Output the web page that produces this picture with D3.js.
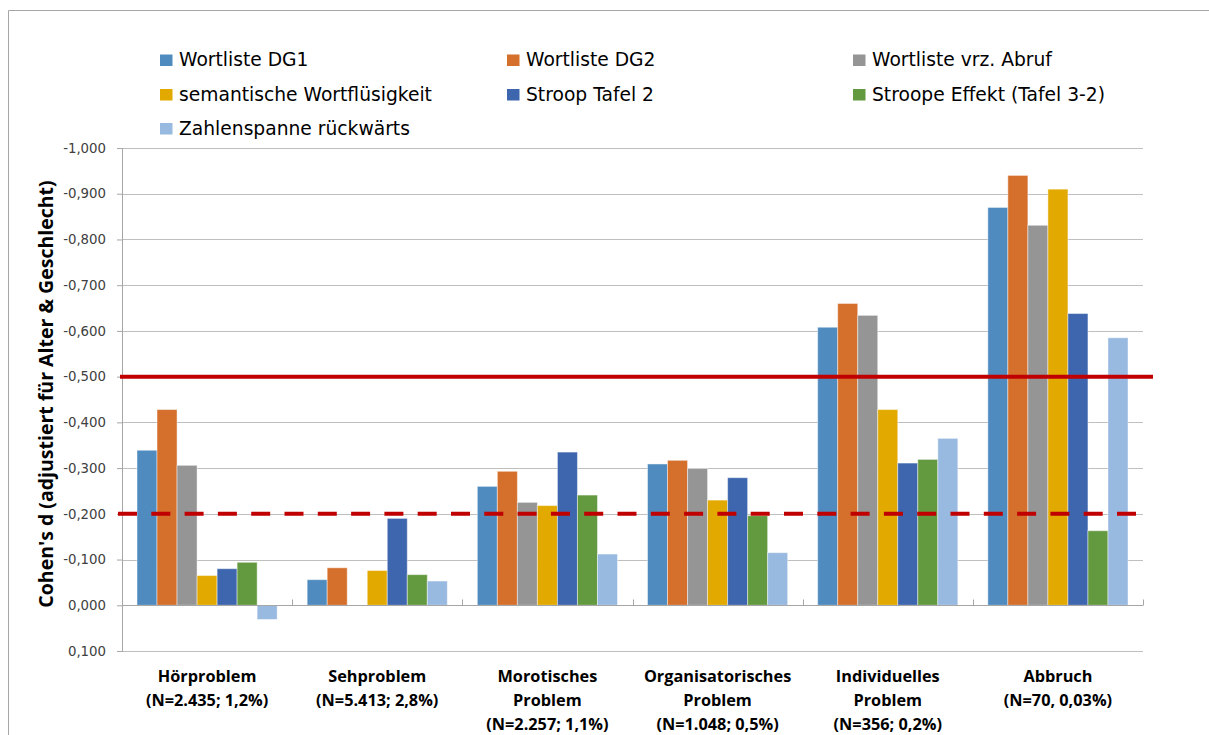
<!DOCTYPE html>
<html>
<head>
<meta charset="utf-8">
<script src="https://cdn.jsdelivr.net/npm/d3@7"></script>
<style>
  body { margin: 0; background: #fff; }
  svg text { font-family: "Open Sans", "Noto Sans", sans-serif; }
</style>
</head>
<body>
<div id="chart"></div>
<script>
// Data
var categories = [
  ["Hörproblem", "(N=2.435; 1,2%)"],
  ["Sehproblem", "(N=5.413; 2,8%)"],
  ["Morotisches", "Problem", "(N=2.257; 1,1%)"],
  ["Organisatorisches", "Problem", "(N=1.048; 0,5%)"],
  ["Individuelles", "Problem", "(N=356; 0,2%)"],
  ["Abbruch", "(N=70, 0,03%)"]
];
var seriesNames = ["Wortliste DG1", "Wortliste DG2", "Wortliste vrz. Abruf",
  "semantische Wortflüsigkeit", "Stroop Tafel 2", "Stroope Effekt (Tafel 3-2)",
  "Zahlenspanne rückwärts"];
var seriesColors = ["#4f8bbf", "#d46f2c", "#959595", "#e2aa00", "#3e66ae", "#63993f", "#98b9e0"];

var wortlisteDG1  = [-0.339, -0.056, -0.260, -0.309, -0.608, -0.870];
var wortlisteDG2  = [-0.428, -0.082, -0.293, -0.317, -0.660, -0.940];
var wortlisteVrz  = [-0.306,  0.000, -0.225, -0.299, -0.634, -0.831];
var semantisch    = [-0.065, -0.076, -0.218, -0.230, -0.428, -0.910];
var stroopTafel2  = [-0.080, -0.190, -0.335, -0.279, -0.311, -0.638];
var stroopEffekt  = [-0.094, -0.067, -0.241, -0.196, -0.319, -0.163];
var zahlenspanne  = [ 0.031, -0.053, -0.112, -0.115, -0.365, -0.585];
var seriesValues = [wortlisteDG1, wortlisteDG2, wortlisteVrz, semantisch,
  stroopTafel2, stroopEffekt, zahlenspanne];

var yTicks = [-1.0, -0.9, -0.8, -0.7, -0.6, -0.5, -0.4, -0.3, -0.2, -0.1, 0.0, 0.1];
var solidRef = -0.5, dashedRef = -0.2;

// Layout
var W = 1209, H = 735;
var margin = { top: 148, left: 122, right: 66, bottom: 84 };
var width = W - margin.left - margin.right,
    height = H - margin.top - margin.bottom;

var svg = d3.select("#chart").append("svg")
    .attr("width", W).attr("height", H);

// chart frame
svg.append("path")
    .attr("d", "M8.5," + H + "V10.5H" + W)
    .attr("fill", "none").attr("stroke", "#a6a6a6").attr("stroke-width", 1);

var g = svg.append("g")
    .attr("transform", "translate(" + margin.left + "," + margin.top + ")");

var y = d3.scaleLinear().domain([-1.0, 0.1]).range([0, height]);
var x0 = d3.scaleBand().domain(d3.range(categories.length)).range([0, width]);
var x1 = d3.scaleBand().domain(d3.range(seriesNames.length))
    .range([15, x0.bandwidth() - 15]);

var fmt = function(v) {
  var s = d3.format(".3f")(Math.abs(v)).replace(".", ",");
  return (v < 0 ? "-" : "") + s;
};

// gridlines
g.selectAll(".grid").data(yTicks).enter().append("line")
    .attr("x1", 0).attr("x2", width)
    .attr("y1", function(d) { return Math.round(y(d)) + 0.5; })
    .attr("y2", function(d) { return Math.round(y(d)) + 0.5; })
    .attr("stroke", "#bfbfbf").attr("stroke-width", 1);

// y axis
var yAxis = d3.axisLeft(y).tickValues(yTicks).tickFormat(fmt).tickSize(5).tickPadding(11);
var ya = g.append("g").call(yAxis);
ya.select(".domain").attr("stroke", "#a6a6a6");
ya.selectAll(".tick line").attr("stroke", "#a6a6a6");
ya.selectAll("text").attr("font-size", 13.3).attr("fill", "#404040")
    .style("font-family", "'DejaVu Sans', sans-serif");

// y title
svg.append("text")
    .attr("transform", "translate(53,394) rotate(-90)")
    .attr("text-anchor", "middle")
    .attr("font-size", 19.5).attr("font-weight", "bold").attr("fill", "#000")
    .text("Cohen's d (adjustiert für Alter & Geschlecht)");

// bars
var groups = g.selectAll(".grp").data(categories).enter().append("g")
    .attr("transform", function(d, i) { return "translate(" + x0(i) + ",0)"; });

groups.selectAll("rect")
    .data(function(d, i) {
      return seriesValues.map(function(s, k) { return { k: k, v: s[i] }; });
    })
    .enter().append("rect")
    .attr("x", function(d) { return x1(d.k); })
    .attr("width", x1.bandwidth())
    .attr("y", function(d) { return y(Math.min(d.v, 0)); })
    .attr("height", function(d) { return Math.abs(y(d.v) - y(0)); })
    .attr("fill", function(d) { return seriesColors[d.k]; })
    .attr("stroke", "#fff").attr("stroke-opacity", 0.45).attr("stroke-width", 1);

// category axis at zero
var y0 = Math.round(y(0)) + 0.5;
g.append("line").attr("x1", 0).attr("x2", width).attr("y1", y0).attr("y2", y0)
    .attr("stroke", "#a6a6a6");
g.selectAll(".ctick").data(d3.range(categories.length + 1)).enter().append("line")
    .attr("x1", function(i) { return Math.round(i * x0.step()) + 0.5; })
    .attr("x2", function(i) { return Math.round(i * x0.step()) + 0.5; })
    .attr("y1", y0 - 6).attr("y2", y0)
    .attr("stroke", "#a6a6a6");

// reference lines
g.append("line")
    .attr("x1", -2).attr("x2", width + 10)
    .attr("y1", y(solidRef)).attr("y2", y(solidRef))
    .attr("stroke", "#c00000").attr("stroke-width", 4);
g.append("line")
    .attr("x1", -4).attr("x2", width)
    .attr("y1", y(dashedRef)).attr("y2", y(dashedRef))
    .attr("stroke", "#c00000").attr("stroke-width", 4)
    .attr("stroke-dasharray", "19,14.3");

// category labels
groups.each(function(lines, i) {
  var t = d3.select(this).append("text")
      .attr("text-anchor", "middle")
      .attr("font-size", 16.3).attr("font-weight", "bold").attr("fill", "#000");
  lines.forEach(function(l, j) {
    t.append("tspan").attr("x", x0.bandwidth() / 2)
        .attr("y", height + 31 + j * 24).text(l);
  });
});

// legend
var legend = svg.append("g");
var legendItems = legend.selectAll(".li").data(seriesNames).enter().append("g")
    .attr("transform", function(d, i) {
      return "translate(" + [160, 507, 853][i % 3] + "," + [66, 100.5, 134.5][Math.floor(i / 3)] + ")";
    });
legendItems.append("rect")
    .attr("x", 0).attr("y", -11.5).attr("width", 12.5).attr("height", 11.5)
    .attr("fill", function(d, i) { return seriesColors[i]; });
legendItems.append("text")
    .attr("x", 19)
    .attr("font-size", 18.7).attr("fill", "#000")
    .style("font-family", "'DejaVu Sans', sans-serif")
    .text(function(d) { return d; });
</script>
</body>
</html>
